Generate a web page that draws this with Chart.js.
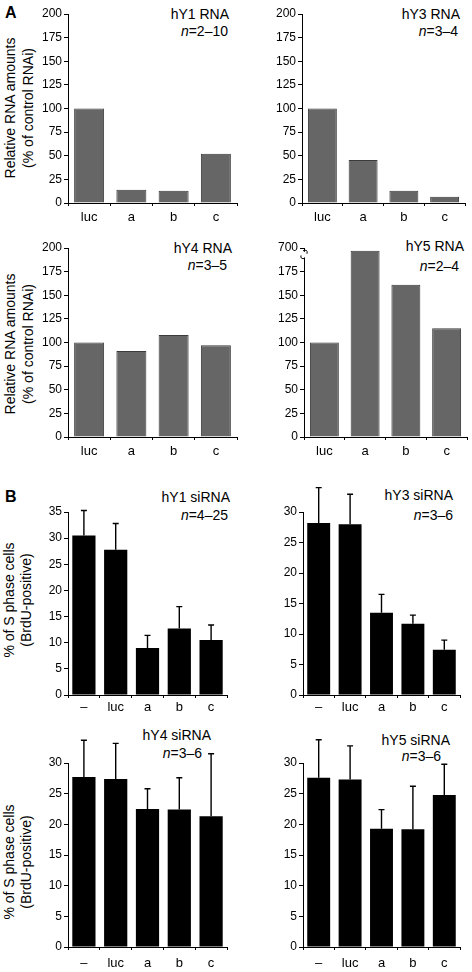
<!DOCTYPE html>
<html><head><meta charset="utf-8">
<script src="https://cdn.jsdelivr.net/npm/chart.js@4.4.0/dist/chart.umd.min.js"></script>
<style>
body{margin:0;width:472px;height:972px;position:relative;background:#fff;overflow:hidden;font-family:"Liberation Sans",Arial,Helvetica,sans-serif;color:#000}
canvas{position:absolute;left:0;top:0}
.t{position:absolute;font-size:14px;line-height:16px;white-space:nowrap;text-align:right}
.yt{position:absolute;font-size:14px;white-space:nowrap;text-align:center;width:240px;transform:rotate(-90deg)}
.lt{position:absolute;font-size:16px;font-weight:bold;line-height:18px}
</style></head><body>

<div class="lt" style="left:5px;top:4px">A</div>
<div class="lt" style="left:5px;top:488px">B</div>

<div class="yt" style="left:-101px;top:90px;line-height:18px;">Relative RNA amounts<br>(% of control RNAi)</div>
<div class="yt" style="left:-101px;top:326px;line-height:18px;">Relative RNA amounts<br>(% of control RNAi)</div>
<div class="yt" style="left:-102px;top:583px;line-height:17px;">% of S phase cells<br>(BrdU-positive)</div>
<div class="yt" style="left:-102px;top:845px;line-height:17px;">% of S phase cells<br>(BrdU-positive)</div>

<div class="t" style="right:243px;top:6px">hY1 RNA</div>
<div class="t" style="right:244px;top:23px"><i>n</i>=2–10</div>
<div class="t" style="right:12px;top:6px">hY3 RNA</div>
<div class="t" style="right:14px;top:23px"><i>n</i>=3–4</div>
<div class="t" style="right:240px;top:240px">hY4 RNA</div>
<div class="t" style="right:245px;top:257px"><i>n</i>=3–5</div>
<div class="t" style="right:8px;top:238px">hY5 RNA</div>
<div class="t" style="right:13px;top:258px"><i>n</i>=2–4</div>

<div class="t" style="right:242px;top:489px">hY1 siRNA</div>
<div class="t" style="right:244px;top:507px"><i>n</i>=4–25</div>
<div class="t" style="right:19px;top:487px">hY3 siRNA</div>
<div class="t" style="right:19px;top:507px"><i>n</i>=3–6</div>
<div class="t" style="right:261px;top:727px">hY4 siRNA</div>
<div class="t" style="right:270px;top:745px"><i>n</i>=3–6</div>
<div class="t" style="right:22px;top:732px">hY5 siRNA</div>
<div class="t" style="right:31px;top:748px"><i>n</i>=3–6</div>

<script>
// ---- data ----
const rnaCategories = ['luc', 'a', 'b', 'c'];
const hY1_RNA = [100, 14, 13, 52];
const hY3_RNA = [100, 45.5, 13, 6.5];
const hY4_RNA = [100, 91, 108, 97];
const hY5_RNA = [100, 700, 161, 115];   // 'a' is off-scale (axis broken, top labelled 700)
const rnaAxisMax = 200;
const rnaAxisStep = 25;
const hY5TopTickLabel = '700';

const siCategories = ['–', 'luc', 'a', 'b', 'c'];
const hY1_si = [30.5, 27.8, 9.0, 12.7, 10.5];
const hY1_siErr = [4.8, 5.0, 2.4, 4.2, 2.9];
const hY3_si = [28.2, 28.0, 13.5, 11.7, 7.4];
const hY3_siErr = [5.8, 4.9, 3.0, 1.4, 1.6];
const hY4_si = [27.7, 27.4, 22.5, 22.4, 21.3];
const hY4_siErr = [6.0, 5.8, 3.3, 5.2, 10.2];
const hY5_si = [27.6, 27.3, 19.3, 19.2, 24.8];
const hY5_siErr = [6.2, 5.5, 3.1, 7.0, 5.0];
const siAxisStep = 5;

// ---- drawing ----
Chart.defaults.font.family = '"Liberation Sans", Arial, Helvetica, sans-serif';
Chart.defaults.color = '#000';
const W = 472, H = 972, YW = 50, XH = 30;

function panel(p) {
  const canvas = document.createElement('canvas');
  canvas.width = W; canvas.height = H;
  document.body.appendChild(canvas);
  const plugins = [];
  if (p.errors) {
    plugins.push({
      id: 'errbars',
      afterDatasetsDraw(chart) {
        const ctx = chart.ctx, ys = chart.scales.y;
        const meta = chart.getDatasetMeta(0);
        ctx.save();
        ctx.strokeStyle = '#000'; ctx.lineWidth = 1.4;
        meta.data.forEach((el, i) => {
          const v = p.values[i], e = p.errors[i];
          const yTop = ys.getPixelForValue(v + e);
          ctx.beginPath();
          ctx.moveTo(el.x, el.y); ctx.lineTo(el.x, yTop);
          ctx.moveTo(el.x - 3, yTop); ctx.lineTo(el.x + 3, yTop);
          ctx.stroke();
        });
        ctx.restore();
      }
    });
  }
  if (p.axisBreak) {
    plugins.push({
      id: 'axisbreak',
      afterDraw(chart) {
        const ctx = chart.ctx, ys = chart.scales.y;
        const x = chart.chartArea.left;
        const y1 = ys.getPixelForValue(p.axisBreak[1]);
        const y2 = ys.getPixelForValue(p.axisBreak[0]);
        ctx.save();
        ctx.fillStyle = '#fff';
        ctx.fillRect(x - 2, y1, 4, y2 - y1);
        ctx.strokeStyle = '#000'; ctx.lineWidth = 1;
        ctx.beginPath();
        ctx.moveTo(x - 1, y1 - 1); ctx.quadraticCurveTo(x + 4, y1 - 3, x + 3, y1 + 2);
        ctx.moveTo(x - 3, y2 - 2); ctx.quadraticCurveTo(x - 4, y2 + 2, x + 1, y2 + 1);
        ctx.stroke();
        ctx.restore();
      }
    });
  }
  const plotted = p.values.map(v => (p.clipAt !== undefined && v > p.clipAt) ? p.clipAt : v);
  return new Chart(canvas.getContext('2d'), {
    type: 'bar',
    data: {
      labels: p.labels,
      datasets: [{
        data: plotted,
        backgroundColor: p.fill,
        borderColor: p.border,
        borderWidth: p.bw,
        barPercentage: p.barPct,
        categoryPercentage: 1
      }]
    },
    options: {
      responsive: false, animation: false, devicePixelRatio: 1,
      layout: { padding: { left: p.area.l - YW, top: p.area.t, right: W - p.area.r, bottom: H - p.area.b - XH } },
      plugins: { legend: { display: false }, tooltip: { enabled: false } },
      scales: {
        x: {
          grid: { display: true, drawOnChartArea: false, drawTicks: true, tickLength: 3, color: '#000', offset: true },
          border: { display: true, color: '#000', width: 1 },
          ticks: { color: '#000', font: { size: 13 }, padding: p.xPad, maxRotation: 0, autoSkip: false },
          afterFit: s => { s.height = XH; }
        },
        y: {
          min: 0, max: p.max,
          grid: { display: true, drawOnChartArea: false, drawTicks: true, tickLength: 4, color: '#000' },
          border: { display: true, color: '#000', width: 1 },
          ticks: { color: '#000', font: { size: 12 }, padding: 2, stepSize: p.step,
                   callback: p.tickLabel || (v => v) },
          afterFit: s => { s.width = YW; }
        }
      }
    },
    plugins
  });
}

const gray = { fill: '#666666', border: '#3a3a3a', bw: 1, barPct: 0.71 };
const black = { fill: '#000000', border: '#000000', bw: 0, barPct: 0.73 };

panel(Object.assign({ labels: rnaCategories, values: hY1_RNA, max: rnaAxisMax, step: rnaAxisStep,
  area: { l: 68, t: 14, r: 237, b: 203 }, xPad: 4 }, gray));
panel(Object.assign({ labels: rnaCategories, values: hY3_RNA, max: rnaAxisMax, step: rnaAxisStep,
  area: { l: 302, t: 14, r: 465, b: 203 }, xPad: 4 }, gray));
panel(Object.assign({ labels: rnaCategories, values: hY4_RNA, max: rnaAxisMax, step: rnaAxisStep,
  area: { l: 68, t: 248, r: 237, b: 437 }, xPad: 4 }, gray));
panel(Object.assign({ labels: rnaCategories, values: hY5_RNA, max: rnaAxisMax, step: rnaAxisStep,
  area: { l: 304, t: 248, r: 467, b: 437 }, xPad: 4, clipAt: 197, axisBreak: [190, 196],
  tickLabel: v => (v === rnaAxisMax ? hY5TopTickLabel : v) }, gray));

panel(Object.assign({ labels: siCategories, values: hY1_si, errors: hY1_siErr, max: 35, step: siAxisStep,
  area: { l: 68, t: 512, r: 227, b: 695 }, xPad: 2 }, black));
panel(Object.assign({ labels: siCategories, values: hY3_si, errors: hY3_siErr, max: 30, step: siAxisStep,
  area: { l: 303, t: 512, r: 460, b: 695 }, xPad: 2 }, black));
panel(Object.assign({ labels: siCategories, values: hY4_si, errors: hY4_siErr, max: 30, step: siAxisStep,
  area: { l: 68, t: 763, r: 227, b: 947 }, xPad: 6 }, black));
panel(Object.assign({ labels: siCategories, values: hY5_si, errors: hY5_siErr, max: 30, step: siAxisStep,
  area: { l: 303, t: 763, r: 460, b: 947 }, xPad: 6 }, black));
</script>
</body></html>
